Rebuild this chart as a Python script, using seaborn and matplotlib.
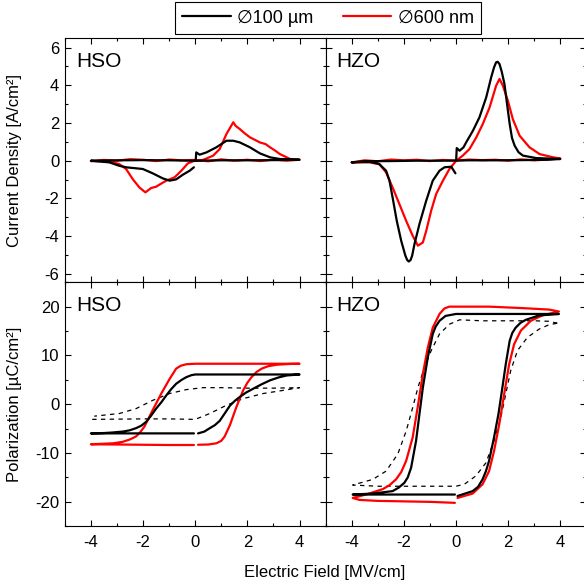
import numpy as np
import pandas as pd
import matplotlib
matplotlib.use("Agg")
import matplotlib.pyplot as plt
from matplotlib.lines import Line2D
from matplotlib.ticker import MultipleLocator
import seaborn as sns

# ---------- Data (E in MV/cm) ----------
# Current density [A/cm2], HSO, 100 um pad: up-sweep peak, flat return, down-sweep peak
hso_j100_x = [0.02, 0.04, 0.17, 0.43, 0.81, 1.20, 1.46, 1.71, 2.10, 2.48, 2.87, 3.25, 4.0,
              3.0, 2.0, 1.0, 0.0, -1.0, -2.0, -3.0, -4.0,
              -3.29, -2.91, -2.65, -2.01, -1.63, -1.24, -0.98, -0.73, -0.47, -0.21, -0.05]
hso_j100_y = [0.0, 0.44, 0.32, 0.44, 0.71, 1.06, 1.06, 0.97, 0.71, 0.39, 0.18, 0.09, 0.05,
              0.03, 0.02, 0.02, 0.0, 0.02, 0.03, 0.02, 0.0,
              -0.09, -0.27, -0.35, -0.44, -0.67, -0.94, -1.06, -0.99, -0.74, -0.53, -0.35]

# HSO, 600 nm pad
hso_j600_x = [-0.02, 0.30, 0.69, 0.94, 1.20, 1.46, 1.55, 1.71, 1.90, 2.10, 2.30, 2.48, 2.70, 2.87, 3.05, 3.25, 3.64, 4.0,
              3.5, 3.0, 2.5, 2.0, 1.5, 1.0, 0.5, 0.0, -0.5, -1.0, -1.5, -2.0, -2.5, -3.0, -3.5, -4.0,
              -3.29, -2.91, -2.65, -2.40, -2.14, -1.91, -1.69, -1.50, -1.37, -1.11, -0.79, -0.53, -0.28, -0.02]
hso_j600_y = [0.0, 0.04, 0.27, 0.62, 1.42, 2.04, 1.85, 1.68, 1.45, 1.24, 1.10, 0.97, 0.88, 0.71, 0.55, 0.35, 0.09, 0.05,
              0.0, 0.06, -0.02, 0.05, 0.0, 0.07, -0.03, 0.04, 0.02, 0.06, -0.02, 0.05, 0.08, 0.0, 0.04, -0.02,
              -0.04, -0.18, -0.44, -0.97, -1.42, -1.68, -1.45, -1.38, -1.27, -1.06, -0.88, -0.53, -0.14, 0.0]

# HZO, 100 um pad
hzo_j100_x = [0.01, 0.03, 0.14, 0.29, 0.39, 0.65, 0.90, 1.16, 1.35, 1.46, 1.54, 1.60, 1.67, 1.76, 1.86, 1.96, 2.06, 2.15, 2.25, 2.40, 2.57, 3.08, 4.0,
              3.5, 2.5, 1.5, 0.5, -0.5, -1.5, -2.5, -3.5, -4.0,
              -3.32, -2.94, -2.68, -2.55, -2.43, -2.27, -2.10, -1.94, -1.87, -1.81, -1.74, -1.68, -1.59, -1.40, -1.14, -0.89, -0.63, -0.44, -0.18, -0.02]
hzo_j100_y = [0.09, 0.67, 0.53, 0.71, 0.97, 1.59, 2.30, 3.36, 4.42, 4.95, 5.22, 5.25, 5.13, 4.70, 4.07, 3.00, 1.95, 1.20, 0.80, 0.45, 0.27, 0.14, 0.09,
              0.05, 0.03, 0.02, 0.02, 0.0, 0.0, -0.02, -0.03, -0.09,
              -0.05, -0.18, -0.53, -1.06, -1.95, -3.19, -4.25, -5.04, -5.27, -5.35, -5.27, -5.04, -4.42, -3.36, -2.12, -1.06, -0.53, -0.35, -0.32, -0.67]

# HZO, 600 nm pad
hzo_j600_x = [0.01, 0.26, 0.52, 0.78, 1.03, 1.29, 1.54, 1.67, 1.80, 1.99, 2.18, 2.44, 2.82, 3.21, 3.72, 4.0,
              3.5, 3.0, 2.5, 2.0, 1.5, 1.0, 0.5, 0.0, -0.5, -1.0, -1.5, -2.0, -2.5, -3.0, -3.5, -4.0,
              -3.32, -2.94, -2.68, -2.43, -2.17, -1.91, -1.66, -1.46, -1.27, -1.14, -0.95, -0.76, -0.50, -0.25, 0.01]
hzo_j600_y = [0.0, 0.27, 0.62, 1.24, 1.95, 2.83, 3.98, 4.34, 3.98, 3.19, 2.21, 1.33, 0.71, 0.35, 0.18, 0.12,
              0.06, 0.02, 0.07, 0.0, 0.05, 0.03, 0.06, 0.0, 0.04, -0.02, 0.05, 0.02, 0.06, -0.03, 0.02, -0.09,
              -0.09, -0.18, -0.62, -1.42, -2.30, -3.19, -3.98, -4.51, -4.34, -3.72, -2.65, -1.77, -1.06, -0.44, 0.0]

# Polarization [uC/cm2], HSO
hso_p100_x = [0.11, 0.35, 0.56, 0.75, 0.94, 1.13, 1.33, 1.52, 1.71, 1.95, 2.23, 2.55, 2.87, 3.20, 3.51, 4.0,
              3.0, 2.0, 1.0, 0.0, -0.15, -0.34, -0.52, -0.73, -0.92, -1.11, -1.30, -1.50, -1.70, -1.88, -2.07, -2.27, -2.52, -2.78, -3.2, -3.5, -4.0,
              -3.0, -2.0, -1.0, -0.05]
hso_p100_y = [-5.97, -5.6, -4.9, -4.3, -3.4, -1.9, -0.3, 0.7, 1.5, 2.4, 3.2, 4.1, 4.9, 5.5, 5.9, 6.1,
              6.1, 6.1, 6.1, 6.1, 5.95, 5.55, 5.0, 4.2, 3.1, 1.8, 0.4, -0.9, -2.4, -3.6, -4.4, -4.9, -5.35, -5.6, -5.8, -5.9, -5.97,
              -5.97, -5.97, -5.97, -5.97]

hso_p600_x = [0.11, 0.50, 0.81, 1.00, 1.13, 1.33, 1.58, 1.84, 2.00, 2.16, 2.35, 2.55, 2.80, 3.13, 3.6, 4.0,
              3.0, 2.0, 1.0, 0.0, -0.34, -0.55, -0.73, -0.98, -1.30, -1.63, -1.95, -2.12, -2.27, -2.50, -2.78, -3.15, -3.55, -4.0,
              -3.0, -2.0, -1.0, -0.05]
hso_p600_y = [-8.3, -8.25, -8.0, -7.5, -6.6, -4.3, -0.55, 2.85, 4.4, 5.55, 6.6, 7.3, 7.8, 8.1, 8.25, 8.3,
              8.3, 8.3, 8.3, 8.3, 8.2, 7.9, 7.3, 5.2, 2.2, -1.2, -4.6, -5.8, -6.6, -7.2, -7.7, -8.0, -8.1, -8.2,
              -8.25, -8.3, -8.35, -8.35]

hso_pref_x = [-3.95, -3.0, -2.0, -1.0, 0.0, 0.56, 1.2, 1.84, 2.61, 3.38, 4.0,
              3.0, 2.0, 1.0, 0.30, -0.34, -0.98, -1.63, -2.27, -2.91, -3.87]
hso_pref_y = [-3.1, -3.05, -3.0, -3.0, -3.1, -1.9, -0.2, 1.15, 2.2, 2.85, 3.4,
              3.3, 3.3, 3.4, 3.4, 3.0, 2.2, 0.8, -0.9, -1.9, -2.44]

# Polarization, HZO
hzo_p100_x = [0.06, 0.64, 0.85, 1.02, 1.15, 1.27, 1.46, 1.63, 1.78, 1.91, 2.06, 2.16, 2.29, 2.48, 2.68, 3.19, 3.95,
              3.0, 2.0, 1.0, 0.0, -0.40, -0.63, -0.78, -0.89, -1.08, -1.27, -1.40, -1.53, -1.72, -1.85, -1.98, -2.20, -2.43, -3.19, -3.96,
              -3.0, -2.0, -1.0, -0.04]
hzo_p100_y = [-18.8, -17.8, -16.9, -15.4, -13.7, -11.6, -6.8, -2.0, 3.4, 8.2, 13.0, 14.6, 15.7, 16.7, 17.3, 18.2, 18.5,
              18.5, 18.5, 18.5, 18.5, 18.1, 17.1, 15.9, 14.4, 9.6, 3.4, -2.0, -7.5, -13.0, -15.0, -16.1, -17.1, -17.8, -18.3, -18.5,
              -18.5, -18.5, -18.5, -18.5]

hzo_p600_x = [0.06, 0.64, 1.02, 1.27, 1.46, 1.66, 1.85, 2.04, 2.23, 2.49, 2.87, 3.31, 3.95,
              3.57, 2.55, 1.27, -0.26, -0.45, -0.63, -0.89, -1.08, -1.27, -1.47, -1.66, -1.91, -2.10, -2.30, -2.55, -2.81, -3.45, -3.96,
              -3.7, -3.0, -2.0, -1.0, -0.04]
hzo_p600_y = [-19.2, -18.3, -16.4, -13.7, -9.6, -4.1, 2.1, 8.2, 12.3, 15.1, 17.1, 18.2, 19.0,
              19.4, 19.7, 20.0, 20.0, 19.6, 18.5, 15.7, 11.6, 6.2, -0.7, -6.8, -11.6, -13.9, -15.4, -16.6, -17.4, -18.5, -19.2,
              -19.6, -19.8, -19.9, -20.0, -20.2]

hzo_pref_x = [3.89, 3.57, 3.0, 2.0, 1.0, 0.14, -0.25, -0.63, -0.95, -1.21, -1.46, -1.66, -1.91, -2.23, -2.68, -3.19, -3.96,
              -3.0, -2.0, -1.0, 0.0, 0.32, 0.76, 1.15, 1.46, 1.72, 1.91, 2.10, 2.36, 2.74, 3.19, 3.57, 3.89]
hzo_pref_y = [16.6, 17.0, 17.1, 17.1, 17.1, 17.3, 16.4, 14.4, 11.0, 7.5, 3.4, -0.7, -5.5, -10.2, -13.7, -15.4, -16.55,
              -16.8, -16.8, -16.8, -16.8, -16.4, -14.7, -12.0, -7.5, -2.7, 2.1, 6.9, 11.0, 13.7, 15.4, 16.3, 16.6]

legend_labels = ["\u2205100 \u00b5m", "\u2205600 nm"]
panel_names = ["HSO", "HZO"]

# ---------- Style ----------
sns.set_style("ticks")
plt.rcParams["font.family"] = ["Liberation Sans", "DejaVu Sans"]
plt.rcParams["axes.unicode_minus"] = False
plt.rcParams["text.color"] = "black"
plt.rcParams["axes.labelcolor"] = "black"
plt.rcParams["xtick.color"] = "black"
plt.rcParams["ytick.color"] = "black"
plt.rcParams["axes.linewidth"] = 0.8

fig, axes = plt.subplots(2, 2, figsize=(5.84, 5.88), dpi=100, sharex=True)
fig.subplots_adjust(left=0.111, right=1.004, top=0.935, bottom=0.105, wspace=0, hspace=0)


def draw(ax, x, y, color, lw=1.6, ls="-"):
    df = pd.DataFrame({"E": x, "v": y})
    sns.lineplot(data=df, x="E", y="v", sort=False, estimator=None, ax=ax,
                 color=color, lw=lw, linestyle=ls, legend=False)


draw(axes[0, 0], hso_j600_x, hso_j600_y, "#ff0000")
draw(axes[0, 0], hso_j100_x, hso_j100_y, "black")
draw(axes[0, 1], hzo_j600_x, hzo_j600_y, "#ff0000")
draw(axes[0, 1], hzo_j100_x, hzo_j100_y, "black")

draw(axes[1, 0], hso_pref_x, hso_pref_y, "black", lw=0.9, ls=(0, (3.5, 3.5)))
draw(axes[1, 0], hso_p600_x, hso_p600_y, "#ff0000")
draw(axes[1, 0], hso_p100_x, hso_p100_y, "black")
draw(axes[1, 1], hzo_pref_x, hzo_pref_y, "black", lw=0.9, ls=(0, (3.5, 3.5)))
draw(axes[1, 1], hzo_p600_x, hzo_p600_y, "#ff0000")
draw(axes[1, 1], hzo_p100_x, hzo_p100_y, "black")

for r in range(2):
    for c in range(2):
        ax = axes[r, c]
        ax.set_xlim(-5, 5)
        if r == 0:
            ax.set_ylim(-6.45, 6.5)
            ax.yaxis.set_major_locator(MultipleLocator(2))
            ax.yaxis.set_minor_locator(MultipleLocator(1))
        else:
            ax.set_ylim(-25, 25)
            ax.yaxis.set_major_locator(MultipleLocator(10))
            ax.yaxis.set_minor_locator(MultipleLocator(5))
        ax.xaxis.set_major_locator(MultipleLocator(2))
        ax.xaxis.set_minor_locator(MultipleLocator(1))
        ax.tick_params(which="both", direction="in", top=True, right=True,
                       color="black", width=0.8, labelsize=12, labelcolor="black")
        ax.tick_params(which="major", length=4)
        ax.tick_params(which="minor", length=2.5)
        ax.tick_params(axis="x", pad=6)
        ax.tick_params(axis="y", pad=4)
        ax.set_xlabel("")
        ax.set_ylabel("")
        for s in ax.spines.values():
            s.set_color("black")
            s.set_linewidth(0.8)
        if c == 1:
            ax.tick_params(labelleft=False)
        ax.text(0.042, 0.945, panel_names[c], transform=ax.transAxes,
                ha="left", va="top", fontsize=15, color="black")

axes[0, 0].set_ylabel("Current Density [A/cm\u00b2]", fontsize=12)
axes[1, 0].set_ylabel("Polarization [\u00b5C/cm\u00b2]", fontsize=12)
for ax in axes[:, 0]:
    ax.yaxis.set_label_coords(-0.165, 0.5)

fig.text(0.556, 0.027, "Electric Field [MV/cm]", ha="center", va="center", fontsize=12)

handles = [Line2D([], [], color="black", lw=1.6), Line2D([], [], color="#ff0000", lw=1.6)]
leg = fig.legend(handles, legend_labels, loc="center", bbox_to_anchor=(0.5616, 0.969), ncol=2,
                 fontsize=13, frameon=True, fancybox=False, framealpha=1, edgecolor="black",
                 handlelength=2.7, handletextpad=0.35, columnspacing=1.6, borderpad=0.4,
                 borderaxespad=0)
leg.get_frame().set_linewidth(0.8)

fig.savefig("out.png", dpi=100)
